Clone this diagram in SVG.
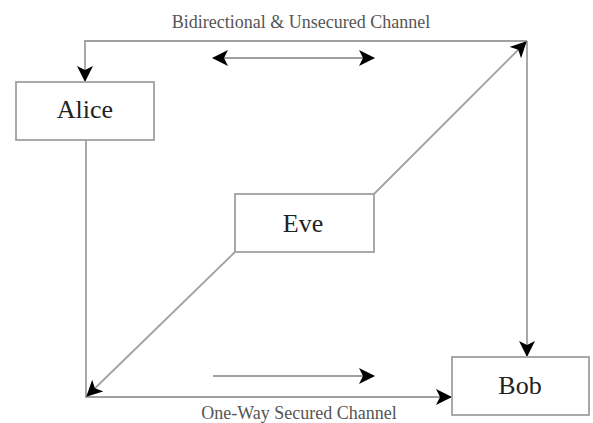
<svg xmlns="http://www.w3.org/2000/svg" width="593" height="423" viewBox="0 0 593 423">
<style>
.box{fill:#fff;stroke:#a0a0a0;stroke-width:1.8}
.ln{fill:none;stroke:#a0a0a0;stroke-width:1.8}
.nm{font-family:"Liberation Serif",serif;font-size:26px;fill:#222;text-anchor:middle}
.lb{font-family:"Liberation Serif",serif;font-size:18px;fill:#555;text-anchor:middle}
</style>
<defs>
<marker id="ah" viewBox="0 0 16 16" refX="15" refY="8" markerWidth="16" markerHeight="16" markerUnits="userSpaceOnUse" orient="auto-start-reverse">
<path d="M0,0 L16,8 L0,16 L4,8 z" fill="#000"/>
</marker>
</defs>
<rect width="593" height="423" fill="#fff"/>
<g id="connectors">
<polyline class="ln" points="527,41 85,41 85,81" marker-end="url(#ah)"/>
<line class="ln" x1="527" y1="41" x2="527" y2="356" marker-end="url(#ah)"/>
<polyline class="ln" points="86,140 86,397 451,397" marker-end="url(#ah)"/>
<line class="ln" x1="374" y1="194" x2="526" y2="42" marker-end="url(#ah)"/>
<line class="ln" x1="235" y1="252" x2="87" y2="396" marker-end="url(#ah)"/>
<line class="ln" x1="213" y1="58" x2="374" y2="58" marker-start="url(#ah)" marker-end="url(#ah)"/>
<line class="ln" x1="213" y1="376" x2="374" y2="376" marker-end="url(#ah)"/>
<text class="lb" x="301" y="28">Bidirectional &amp; Unsecured Channel</text>
<text class="lb" x="299" y="419">One-Way Secured Channel</text>
</g>
<g id="alice">
<rect class="box" x="16" y="82" width="138" height="58"/>
<text class="nm" x="85" y="118">Alice</text>
</g>
<g id="eve">
<rect class="box" x="235" y="194" width="139" height="58"/>
<text class="nm" x="303" y="232">Eve</text>
</g>
<g id="bob">
<rect class="box" x="452" y="357" width="137" height="58"/>
<text class="nm" x="520" y="394">Bob</text>
</g>
</svg>
